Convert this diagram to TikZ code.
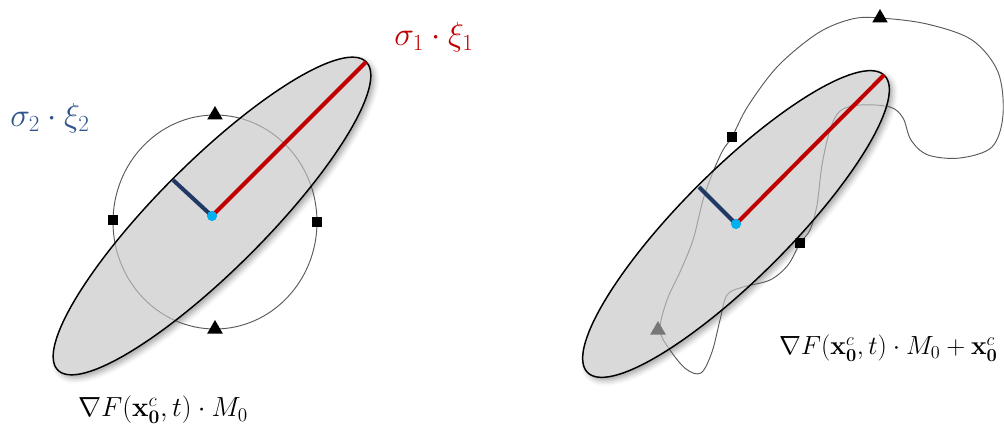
\documentclass[tikz,border=0pt]{standalone}
\usepackage{amsmath}
\usepackage{amssymb}
\usepackage{tikz}
\usetikzlibrary{
    shapes.geometric,
    shadows.blur
}

\definecolor{axisred}{RGB}{192,0,0}
\definecolor{axisblue}{RGB}{31,56,100}
\definecolor{labelblue}{RGB}{46,84,140}
\definecolor{dotcyan}{RGB}{0,176,240}
\definecolor{ellfill}{RGB}{217,217,217}

\tikzset{
    trimark/.style={regular polygon, regular polygon sides=3, fill=black,
        inner sep=0pt, minimum size=13.5pt},
    sqmark/.style={rectangle, fill=black, inner sep=0pt, minimum size=7.5pt},
    trajline/.style={draw=black!65, line width=0.7pt},
    axisline/.style={line width=3pt},
    bigmath/.style={font=\fontsize{20}{24}\selectfont},
    sigmath/.style={font=\fontsize{24}{28}\selectfont}
}

\begin{document}
\begin{tikzpicture}[x=0.75pt,y=-0.75pt]

\useasboundingbox (0,0) rectangle (1004,428);

\coordinate (cL) at (212,216);
\coordinate (cR) at (736,224);

% shadowed ellipses
\foreach \c/\a in {cL/218,cR/210}{
    \fill[ellfill, rotate around={45:(\c)},
          blur shadow={shadow xshift=2.5pt, shadow yshift=-2.5pt,
                       shadow blur radius=4pt, shadow opacity=35}]
    (\c) ellipse [x radius=\a, y radius=54];
}

% unit circle (left)
\draw[trajline] (215,222) ellipse [x radius=102, y radius=107];
\node[trimark] (tL1) at (215,115) {};
\node[trimark] (tL2) at (215,329) {};
\node[sqmark] (sL1) at (113,220) {};
\node[sqmark] (sL2) at (317,222) {};

% deformed loop (right)
\draw[trajline] plot[smooth cycle, tension=0.55] coordinates {
    (880,18) (927,24) (972,40) (998,72) (1003,115) (992,147)
    (960,158) (928,155) (911,140) (903,118) (890,107) (860,105)
    (840,111) (830,130) (822,165) (817,205) (810,230) (800,243)
    (788,265) (770,280) (743,287) (727,295) (720,320) (712,352)
    (701,373) (686,369) (670,350) (660,330) (667,300) (680,272)
    (693,240) (703,200) (713,172) (723,150) (732,137) (748,106)
    (778,66) (818,33) (852,19)
};
\node[trimark] (tR1) at (880,18) {};
\node[trimark] (tR2) at (658,330) {};
\node[sqmark] (sR1) at (732,137) {};
\node[sqmark] (sR2) at (800,243) {};

% ellipse outlines
\foreach \c/\a in {cL/218,cR/210}{
    \path[fill=ellfill, fill opacity=0.55, draw=black, line width=1.1pt,
          rotate around={45:(\c)}]
    (\c) ellipse [x radius=\a, y radius=54];
}

% axes
\coordinate (aL1) at (366,62);
\coordinate (aL2) at (173,180);
\coordinate (aR1) at (884,75);
\coordinate (aR2) at (699,187);

\draw[axisline, axisred] (cL) -- (aL1);
\draw[axisline, axisblue] (cL) -- (aL2);
\draw[axisline, axisred] (cR) -- (aR1);
\draw[axisline, axisblue] (cR) -- (aR2);

\fill[dotcyan] (cL) circle [radius=3.8pt];
\fill[dotcyan] (cR) circle [radius=3.8pt];

% labels
\node[sigmath, text=axisred] (sig1) at (434,37) {$\sigma_1\cdot\xi_1$};
\node[sigmath, text=labelblue] (sig2) at (50,118) {$\sigma_2\cdot\xi_2$};
\node[bigmath] (grad) at (163,410)
    {$\nabla F(\mathbf{x}_{\mathbf{0}}^{c},t)\cdot M_0$};
\node[bigmath, scale=0.95, anchor=east] (gradc) at (1002,348)
    {$\nabla F(\mathbf{x}_{\mathbf{0}}^{c},t)\cdot M_0+\mathbf{x}_{\mathbf{0}}^{c}$};

\end{tikzpicture}
\end{document}
